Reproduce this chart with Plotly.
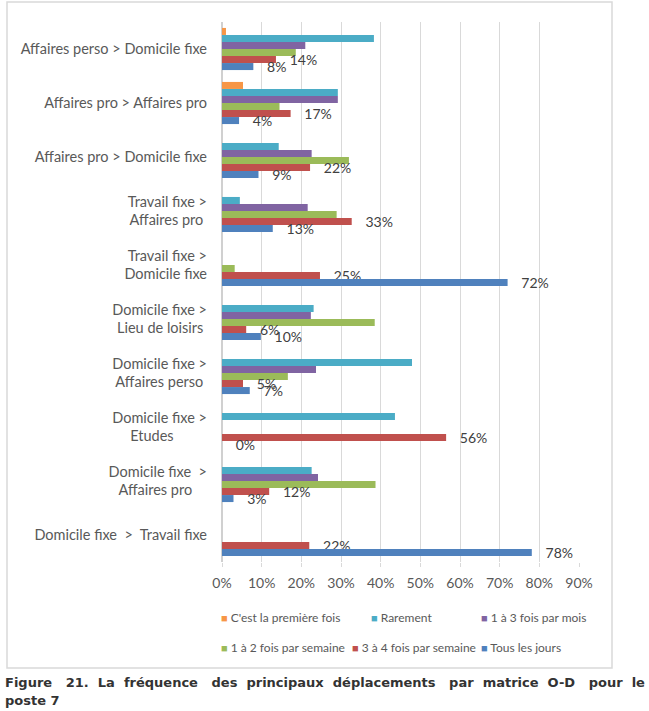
import plotly.graph_objects as go

categories = [
    "Affaires perso > Domicile fixe",
    "Affaires pro > Affaires pro",
    "Affaires pro > Domicile fixe",
    "Travail fixe ><br>Affaires pro\u00a0",
    "Travail fixe ><br>Domicile fixe",
    "Domicile fixe ><br>Lieu de loisirs\u00a0",
    "Domicile fixe ><br>Affaires perso\u00a0",
    "Domicile fixe ><br>Etudes" + "\u00a0" * 9,
    "Domicile fixe  ><br>Affaires pro" + "\u00a0" * 4,
    "Domicile fixe  >  Travail fixe",
]

series_names = [
    "C'est la première fois",
    "Rarement",
    "1 à 3 fois par mois",
    "1 à 2 fois par semaine",
    "3 à 4 fois par semaine",
    "Tous les jours",
]

premiere_fois = [0.010, 0.053, None, None, None, None, None, None, None, None]
rarement = [0.383, 0.292, 0.143, 0.045, None, 0.231, 0.479, 0.436, 0.226, None]
un_trois_mois = [0.210, 0.292, 0.226, 0.216, None, 0.224, 0.237, None, 0.242, None]
un_deux_semaine = [0.186, 0.145, 0.320, 0.289, 0.032, 0.385, 0.166, None, 0.387, None]
trois_quatre_semaine = [0.136, 0.173, 0.222, 0.327, 0.247, 0.061, 0.053, 0.565, 0.119, 0.220]
tous_les_jours = [0.079, 0.043, 0.092, 0.128, 0.720, 0.098, 0.070, 0.0, 0.029, 0.781]

x_ticks = [0, 0.1, 0.2, 0.3, 0.4, 0.5, 0.6, 0.7, 0.8, 0.9]

colors = ["#F79646", "#4BACC6", "#8064A2", "#9BBB59", "#C0504D", "#4F81BD"]
values = [premiere_fois, rarement, un_trois_mois, un_deux_semaine,
          trois_quatre_semaine, tous_les_jours]
labelled = [False, False, False, False, True, True]

caption_line1 = "Figure 21. La fréquence des principaux déplacements par matrice O-D pour le"
caption_line2 = "poste 7"

font_main = "Lato, 'Open Sans', sans-serif"
grey_text = "#595959"

# plot-area geometry (pixels) used to place the decorations
L, R, T, B = 222, 70, 22, 149
W = 649 - L - R
H = 711 - T - B


def px_x(px):
    return (px - L) / W


def px_y(py):
    return (711 - B - py) / H


fig = go.Figure()
for name, vals, col, lab in zip(series_names, values, colors, labelled):
    kw = {}
    if lab:
        kw = dict(texttemplate="\u00a0\u00a0\u00a0%{x:.0%}", textposition="outside",
                  textfont=dict(family=font_main, size=14, color="#404040"),
                  constraintext="none", cliponaxis=False)
    fig.add_trace(go.Bar(
        y=categories, x=vals, name=name, orientation="h",
        marker=dict(color=col, line=dict(width=0)),
        showlegend=False, **kw))

# legend rendered as text entries (two rows of three, as in the reference)
legend_pos = [(219, 617), (369, 617), (479, 617),
              (219, 647), (350, 647), (479, 647)]
annotations = []
for name, col, (lx, ly) in zip(series_names, colors, legend_pos):
    annotations.append(dict(
        text=f"<span style='color:{col};font-size:11px'>■</span> {name}",
        xref="paper", yref="paper", x=px_x(lx), y=px_y(ly),
        xanchor="left", yanchor="middle", showarrow=False,
        font=dict(family=font_main, size=12, color=grey_text)))

# justified caption (extra word spacing as in the source document)
sp = "\u00a0"
words = caption_line1.split(" ")
gaps = [" " + sp * 2 if i % 3 == 0 else " " + sp for i in range(len(words) - 1)]
cap1 = words[0] + "".join(g + w for g, w in zip(gaps, words[1:]))
annotations.append(dict(
    text=f"<b>{cap1}</b>", xref="paper", yref="paper",
    x=px_x(3), y=px_y(682), xanchor="left", yanchor="middle", showarrow=False,
    font=dict(family="DejaVu Sans", size=13, color="#333333")))
annotations.append(dict(
    text=f"<b>{caption_line2}</b>", xref="paper", yref="paper",
    x=px_x(3), y=px_y(700), xanchor="left", yanchor="middle", showarrow=False,
    font=dict(family="DejaVu Sans", size=13, color="#333333")))

fig.update_layout(
    width=649, height=711,
    margin=dict(l=L, r=R, t=T, b=B),
    paper_bgcolor="white", plot_bgcolor="white",
    barmode="group", bargap=0.22, bargroupgap=0,
    showlegend=False,
    font=dict(family=font_main, size=14, color=grey_text),
    xaxis=dict(range=[0, 0.9], tickvals=x_ticks, tickformat=".0%",
               showgrid=True, gridcolor="#d9d9d9", gridwidth=1,
               zeroline=True, zerolinecolor="#d0d0d0", zerolinewidth=1.5,
               ticks="outside", ticklen=4, tickcolor="#d9d9d9",
               ticklabelstandoff=4,
               tickfont=dict(family=font_main, size=14, color=grey_text),
               automargin=False),
    yaxis=dict(autorange="reversed", showgrid=False, ticks="",
               ticklabelstandoff=14, automargin=False,
               tickfont=dict(family=font_main, size=14.5, color=grey_text)),
    shapes=[dict(type="rect", xref="paper", yref="paper",
                 x0=px_x(7), x1=px_x(612), y0=px_y(668), y1=px_y(2),
                 line=dict(color="#d9d9d9", width=1.5), layer="below")],
    annotations=annotations,
)

fig.write_html("out.html",
               config={"displayModeBar": False},
               post_script="document.body.style.margin='0';")
